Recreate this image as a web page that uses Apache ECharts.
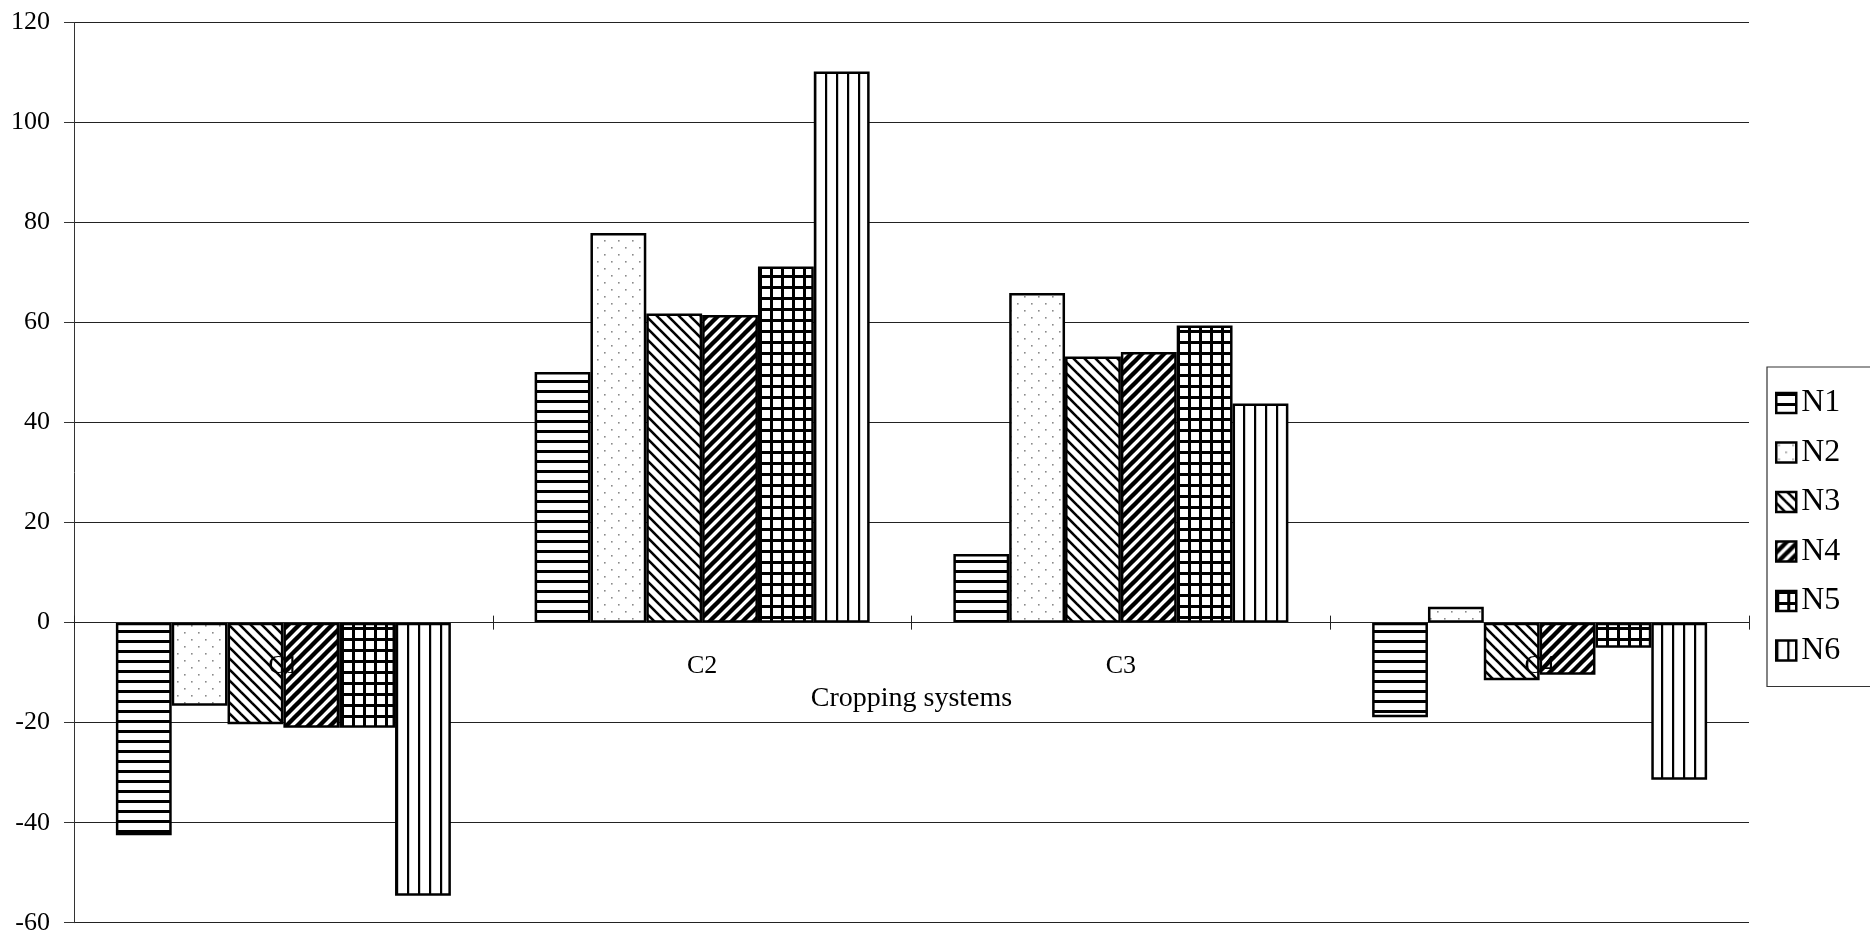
<!DOCTYPE html>
<html><head><meta charset="utf-8">
<script src="https://cdn.jsdelivr.net/npm/echarts@6/dist/echarts.min.js"></script>
<style>html,body{margin:0;padding:0;background:#fff}#c{width:1870px;height:936px}</style>
</head><body><div id="c"></div>
<script>
// ---- data ----
const categories = ['C1', 'C2', 'C3', 'C4'];
const seriesNames = ['N1', 'N2', 'N3', 'N4', 'N5', 'N6'];
const N1 = [-42.5, 50.1, 13.7, -18.9];
const N2 = [-16.6, 77.9, 65.9, 3.2];
const N3 = [-20.3, 61.8, 53.2, -11.5];
const N4 = [-21.0, 61.5, 54.1, -10.4];
const N5 = [-21.0, 71.2, 59.4, -5.0];
const N6 = [-54.6, 110.2, 43.8, -31.4];
const yMin = -60, yMax = 120, yStep = 20;
const axisName = 'Cropping systems';

// ---- patterns ----
function makePattern(kind) {
  const c = document.createElement('canvas');
  let w = 11, h = 11;
  if (kind === 'h') { w = 10; h = 10; }
  if (kind === 'dots') { w = 14; h = 14; }
  if (kind === 'v') { w = 11; h = 4; }
  c.width = w; c.height = h;
  const g = c.getContext('2d');
  g.fillStyle = '#fff'; g.fillRect(0, 0, w, h);
  g.fillStyle = '#000'; g.strokeStyle = '#000';
  if (kind === 'h') {
    g.fillRect(0, 0, w, 3);
  } else if (kind === 'dots') {
    g.fillStyle = '#8a8a8a';
    g.fillRect(2, 2, 1.6, 1.6);
    g.fillRect(9, 9, 1.6, 1.6);
  } else if (kind === 'back' || kind === 'fwd') {
    g.lineWidth = kind === 'back' ? 2.6 : 4.4;
    g.lineCap = 'square';
    for (let k = -w; k <= w; k += w) {
      g.beginPath();
      if (kind === 'back') { g.moveTo(k, 0); g.lineTo(k + w, h); }
      else { g.moveTo(k, h); g.lineTo(k + w, 0); }
      g.stroke();
    }
  } else if (kind === 'grid') {
    g.fillRect(0, 0, w, 3);
    g.fillRect(0, 0, 3, h);
  } else if (kind === 'v') {
    g.fillRect(0, 0, 2.2, h);
  }
  return { image: c, repeat: 'repeat' };
}
const patterns = [makePattern('h'), makePattern('dots'), makePattern('back'),
                  makePattern('fwd'), makePattern('grid'), makePattern('v')];
const values = [N1, N2, N3, N4, N5, N6];

const font = 'Liberation Serif, Times New Roman, serif';
const W = 1870, H = 936;
const gridL = 74, gridR = 121, gridT = 22.5, gridB = 13.3;
const plotH = H - gridT - gridB;
// shift of the category axis from the grid bottom up to the value 0
const zeroOffset = -plotH * (0 - yMin) / (yMax - yMin);

const chart = echarts.init(document.getElementById('c'), null, { renderer: 'canvas' });
chart.setOption({
  backgroundColor: '#fff',
  animation: false,
  textStyle: { fontFamily: font, color: '#000' },
  grid: { left: gridL, right: gridR, top: gridT, bottom: gridB, containLabel: false, outerBoundsMode: 'none' },
  legend: {
    orient: 'vertical', left: 1767, top: 367,
    padding: [20, 40, 20, 8],
    itemGap: 17.5, itemWidth: 20, itemHeight: 20,
    icon: 'rect',
    borderColor: '#333', borderWidth: 1.2,
    textStyle: { fontFamily: font, fontSize: 32, color: '#000', lineHeight: 32 },
    itemStyle: { borderColor: '#000', borderWidth: 2.5 },
    data: seriesNames
  },
  xAxis: [{
    type: 'category', data: categories, z: 10, position: 'bottom', offset: zeroOffset,
    axisLine: { onZero: false, lineStyle: { color: '#222', width: 1.2 } },
    axisTick: { show: true, alignWithLabel: false, length: 7, lineStyle: { color: '#222' } },
    axisLabel: { fontFamily: font, fontSize: 26, color: '#000', margin: 31 },
    name: axisName, nameLocation: 'middle', nameGap: 58,
    nameTextStyle: { fontFamily: font, fontSize: 28, color: '#000' },
    splitLine: { show: false }
  }, {
    type: 'category', data: categories, z: 10, position: 'bottom', offset: zeroOffset,
    axisLine: { onZero: false, lineStyle: { color: '#222', width: 1.2 } },
    axisTick: { show: true, inside: true, alignWithLabel: false, length: 7, lineStyle: { color: '#222' } },
    axisLabel: { show: false },
    splitLine: { show: false }
  }],
  yAxis: {
    type: 'value', min: yMin, max: yMax, interval: yStep,
    axisLine: { show: true, lineStyle: { color: '#333', width: 1 } },
    axisTick: { show: true, length: 10, lineStyle: { color: '#333' } },
    axisLabel: { fontFamily: font, fontSize: 26, color: '#000', margin: 24 },
    splitLine: { show: true, lineStyle: { color: '#222', width: 1.2 } }
  },
  series: seriesNames.map((n, i) => ({
    name: n, type: 'bar', data: values[i], xAxisIndex: 0,
    barGap: '0%', barCategoryGap: '20%',
    itemStyle: { color: patterns[i], borderColor: '#000', borderWidth: 2.5 },
    emphasis: { disabled: true }
  }))
});
</script></body></html>
